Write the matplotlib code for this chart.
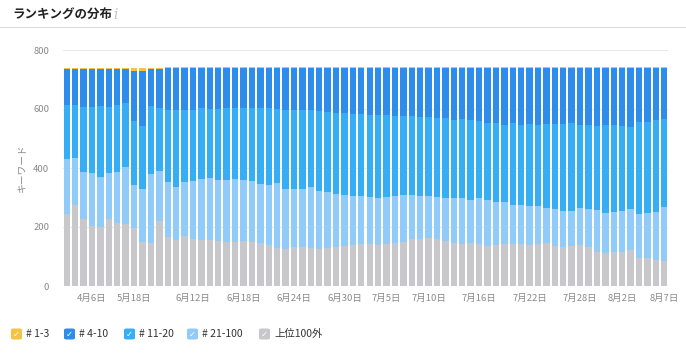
import matplotlib
matplotlib.use("Agg")
import matplotlib.pyplot as plt
import pandas as pd
from matplotlib.patches import FancyBboxPatch
from matplotlib.lines import Line2D

plt.rcParams['font.family'] = ['Noto Sans CJK JP', 'DejaVu Sans']

# dates (first weeks irregular, daily from 6/12)
early_dates = ['3月16日', '3月23日', '3月30日', '4月6日', '4月13日', '4月20日', '4月27日', '5月4日',
               '5月18日', '5月25日', '6月1日', '6月5日', '6月8日', '6月10日', '6月11日']
daily = pd.date_range('2024-06-12', '2024-08-07')
dates = early_dates + [f'{d.month}月{d.day}日' for d in daily]

shown_ticks = ['4月6日', '5月18日', '6月12日', '6月18日', '6月24日', '6月30日', '7月5日',
               '7月10日', '7月16日', '7月22日', '7月28日', '8月2日', '8月7日']

top1_3 = [4, 4, 4, 4, 4, 4, 4, 4, 11, 11, 4, 4, 4, 4, 4, 4, 4, 4, 4, 4, 4, 4, 4, 4,
          4, 4, 4, 4, 4, 4, 4, 4, 4, 4, 4, 4, 4, 4, 4, 4, 4, 4, 4, 4, 4, 4, 4, 4,
          4, 4, 4, 4, 4, 4, 4, 4, 4, 4, 4, 4, 4, 4, 4, 4, 4, 4, 4, 4, 4, 4, 4, 4]
top4_10 = [121, 121, 126, 126, 124, 126, 121, 115, 169, 185, 126, 131, 143, 143, 144, 143,
           137, 140, 139, 137, 135, 136, 138, 135, 136, 140, 142, 144, 143, 144, 146, 150,
           152, 155, 156, 158, 160, 160, 162, 164, 165, 164, 166, 168, 170, 172, 177, 174,
           177, 182, 188, 187, 193, 188, 195, 191, 194, 190, 190, 192, 189, 194, 195, 197,
           193, 195, 197, 200, 183, 184, 174, 173]
top11_20 = [184, 180, 220, 224, 239, 226, 225, 214, 218, 214, 230, 214, 246, 260, 245, 242,
            241, 235, 241, 245, 243, 244, 246, 260, 262, 252, 268, 268, 267, 261, 272, 270,
            276, 277, 279, 276, 277, 282, 276, 272, 267, 267, 269, 268, 268, 270, 263, 266,
            271, 261, 260, 267, 263, 277, 269, 277, 276, 287, 288, 293, 296, 283, 283, 285,
            301, 295, 288, 278, 313, 308, 314, 297]
top21_100 = [185, 160, 161, 182, 171, 154, 175, 195, 144, 179, 235, 169, 184, 181, 182, 195,
             206, 209, 208, 210, 212, 208, 208, 200, 204, 218, 204, 196, 197, 207, 196, 192,
             181, 172, 165, 163, 161, 160, 160, 159, 158, 149, 147, 140, 142, 144, 153, 158,
             146, 155, 155, 146, 140, 131, 135, 133, 128, 118, 126, 124, 119, 124, 129, 142,
             135, 134, 141, 141, 148, 154, 162, 182]
out100 = [244, 273, 227, 202, 200, 228, 213, 210, 198, 150, 145, 222, 167, 156, 169, 160,
          156, 156, 152, 148, 150, 152, 148, 145, 138, 130, 126, 132, 133, 128, 126, 128,
          131, 136, 140, 143, 142, 138, 142, 145, 150, 160, 158, 164, 160, 154, 147, 142,
          146, 142, 137, 140, 144, 144, 141, 139, 142, 145, 136, 131, 136, 139, 133, 116,
          111, 116, 114, 121, 96, 94, 88, 86]

series = [('上位100外', out100, '#C7C7CC'),
          ('# 21-100', top21_100, '#90CBFA'),
          ('# 11-20', top11_20, '#35AEF6'),
          ('# 4-10', top4_10, '#2E8CEC'),
          ('# 1-3', top1_3, '#F6C243')]

fig = plt.figure(figsize=(6.86, 3.54), dpi=100)
ax = fig.add_axes([63 / 686, 68 / 354, 605 / 686, 236 / 354])

x = list(range(len(dates)))
bottom = [0] * len(dates)
for name, vals, col in series:
    ax.bar(x, vals, bottom=bottom, width=0.76, color=col, linewidth=0)
    bottom = [b + v for b, v in zip(bottom, vals)]

ax.set_xlim(-0.45, len(dates) - 0.55)
ax.set_ylim(0, 800)
ax.set_yticks([0, 200, 400, 600, 800])
ax.set_xticks([dates.index(t) for t in shown_ticks])
ax.set_xticklabels(shown_ticks)
ax.yaxis.grid(True, color='#E8E8E8', linewidth=0.8)
ax.set_axisbelow(True)
for s in ax.spines.values():
    s.set_visible(False)
ax.tick_params(axis='both', length=0, labelsize=6.8, labelcolor='#8A8A8A')
ax.tick_params(axis='y', pad=10)
ax.tick_params(axis='x', pad=6)

fig.text(22 / 686, 1 - 168 / 354, 'キーワード', rotation=90, ha='center', va='center',
         fontsize=7, color='#8A8A8A')

# header
fig.text(12 / 686, 1 - 14 / 354, 'ランキングの分布', fontsize=9, fontweight='bold',
         va='center', color='#222222')
fig.text(113 / 686, 1 - 15 / 354, 'i', fontsize=10, style='italic', va='center',
         color='#C4C4C4', family='DejaVu Serif')
fig.add_artist(Line2D([0, 1], [1 - 27 / 354] * 2, color='#DDDDDD', lw=0.8,
                      transform=fig.transFigure))

# legend with checkboxes
legend_x = [11, 64, 124, 187, 259]
yc = 1 - 334 / 354
bw, bh = 11 / 686, 11 / 354
for (name, vals, col), lx in zip(series[::-1], legend_x):
    box = FancyBboxPatch((lx / 686, yc - bh / 2), bw, bh,
                         boxstyle='round,pad=0,rounding_size=0.004',
                         transform=fig.transFigure, facecolor=col, edgecolor='none')
    fig.add_artist(box)
    fig.text(lx / 686 + bw / 2, yc, '✓', ha='center', va='center', fontsize=6,
             color='white', fontweight='bold', family='DejaVu Sans')
    fig.text((lx + 15) / 686, yc, name, ha='left', va='center', fontsize=7.5, color='#333333')

fig.savefig('out.png', dpi=100)
